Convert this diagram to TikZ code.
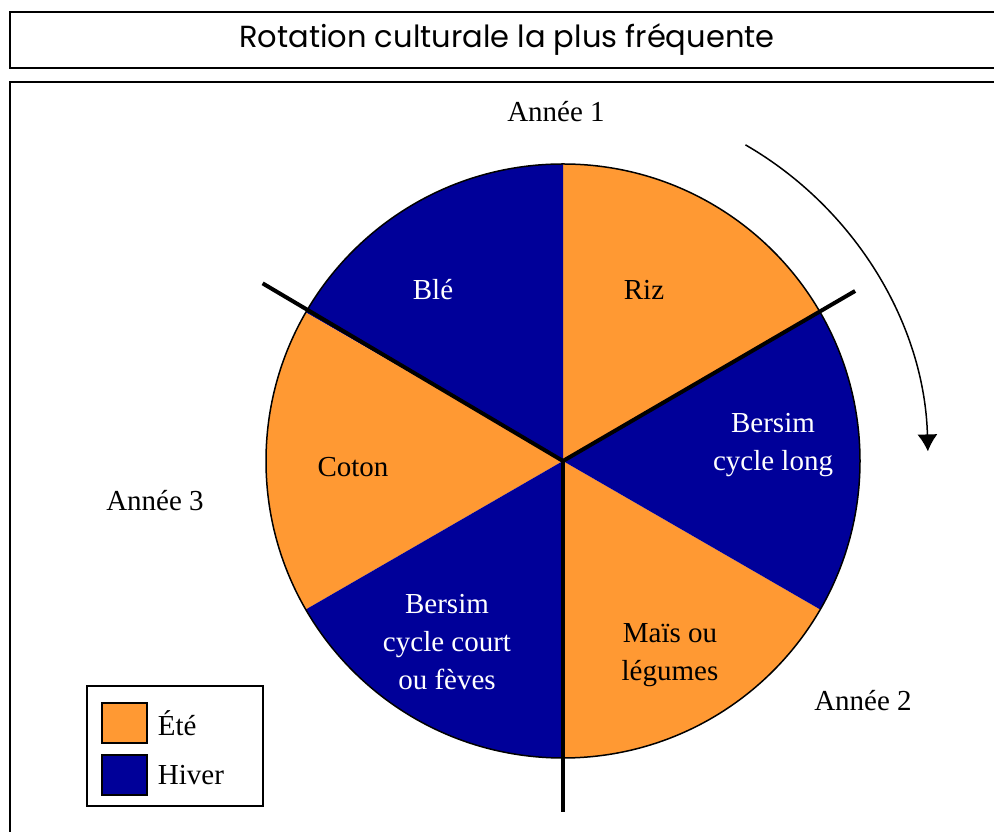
\documentclass[tikz,border=0pt]{standalone}
\usepackage{fontspec}
\setmainfont{Liberation Serif}
\newfontfamily\titlefont{Poppins}
\usepackage{tikz}
\usetikzlibrary{arrows.meta,positioning}
\definecolor{ete}{RGB}{255,153,51}
\definecolor{hiver}{RGB}{0,0,153}

\begin{document}
\begin{tikzpicture}[x=1pt, y=1pt,
        lbl/.style={font=\fontsize{29}{38}\selectfont, align=center, inner sep=0pt},
        wlbl/.style={lbl, text=white},
        yearline/.style={line width=4pt},
        swatch/.style={draw, line width=1.5pt, minimum width=45pt, minimum height=40pt, inner sep=0pt}]
        \useasboundingbox (0, 0) rectangle (994, 832);
        \clip (0, 0) rectangle (994, 832);
        \fill [white] (0, 0) rectangle (994, 832);

        % title and frame
        \draw [line width=2pt] (10, 764) rectangle (1010, 820);
        \node (title) at (507, 792) {\titlefont\fontsize{30.5}{36}\selectfont Rotation culturale la plus fréquente};
        \draw [line width=2pt] (10, -20) rectangle (1010, 750);

        % pie
        \coordinate (c) at (563, 371);
        \foreach \a/\col in {30/ete, 90/hiver, 150/ete, 210/hiver, 270/ete, 330/hiver}
            \fill [\col] (c) -- ++(\a:297) arc (\a:\a+60:297) -- cycle;
        \draw [line width=1.5pt] (c) circle (297);

        % years
        \draw [yearline] (c) -- ++(30.2:338);
        \draw [yearline] (c) -- ++(149.4:349);
        \draw [yearline] (c) -- ++(270:351);
        \draw [line width=1.5pt, -{Latex[length=17pt, width=20pt]}] (c) ++(60:365) arc (60:1.5:365);

        \node [lbl] (annee1) at (556, 720) {Année 1};
        \node [lbl] (annee2) at (863, 131) {Année 2};
        \node [lbl] (annee3) at (155, 331) {Année 3};

        \node [lbl] (riz) at (644, 542) {Riz};
        \node [wlbl] (ble) at (433, 542) {Blé};
        \node [lbl] (coton) at (353, 365) {Coton};
        \node [wlbl] (bersimlong) at (773, 387) {Bersim\\cycle long};
        \node [lbl] (mais) at (670, 177) {Maïs ou\\légumes};
        \node [wlbl] (bersimcourt) at (447, 190) {Bersim\\cycle court\\ou fèves};

        % legend
        \node [draw, line width=1.5pt, minimum width=176pt, minimum height=120pt] (legend) at (175, 86) {};
        \node [swatch, fill=ete] (swete) at (124.5, 109) {};
        \node [swatch, fill=hiver] (swhiver) at (124.5, 57) {};
        \node [lbl, right=10pt of swete] (ete) {Été};
        \node [lbl, right=10pt of swhiver] (hiver) {Hiver};
\end{tikzpicture}
\end{document}
